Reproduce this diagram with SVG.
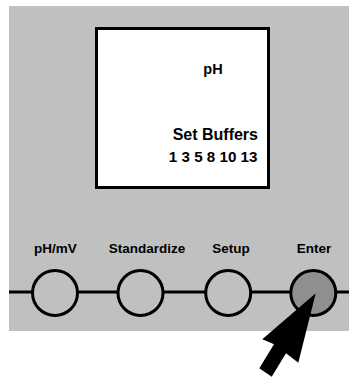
<svg xmlns="http://www.w3.org/2000/svg" width="349" height="377" viewBox="0 0 349 377">
<style>
text{font-family:"Liberation Sans",Arial,sans-serif;font-weight:bold;fill:#000}
.lbl{font-size:13.5px;text-anchor:middle}
.btn{fill:#c0c0c0;stroke:#000;stroke-width:3}
</style>
<rect x="9" y="6" width="340" height="325" fill="#c0c0c0"/>
<g id="display">
<rect x="96.5" y="28.5" width="172" height="159" fill="#fff" stroke="#000" stroke-width="3"/>
<text x="213" y="74" font-size="14.5" text-anchor="middle">pH</text>
<text x="258" y="140" font-size="16" text-anchor="end">Set Buffers</text>
<text x="257.5" y="162" font-size="15.2" text-anchor="end">1 3 5 8 10 13</text>
</g>
<g id="connectors">
<line x1="9" y1="292" x2="349" y2="292" stroke="#000" stroke-width="3"/>
</g>
<g id="btn-phmv"><circle class="btn" cx="55" cy="293" r="22.5"/><text class="lbl" x="55.5" y="253">pH/mV</text></g>
<g id="btn-standardize"><circle class="btn" cx="140.5" cy="293" r="22.5"/><text class="lbl" x="147" y="253">Standardize</text></g>
<g id="btn-setup"><circle class="btn" cx="228.2" cy="293" r="22.5"/><text class="lbl" x="231" y="253">Setup</text></g>
<g id="btn-enter"><circle class="btn" cx="313.3" cy="293" r="22.5" style="fill:#8f8f8f"/><text class="lbl" x="314" y="253">Enter</text></g>
<g id="arrow">
<polygon points="315.7,293.3 298.3,362.7 286,353.3 271.7,376.7 259.3,368.3 274,344.3 262.3,339.3" fill="#000"/>
</g>
</svg>
